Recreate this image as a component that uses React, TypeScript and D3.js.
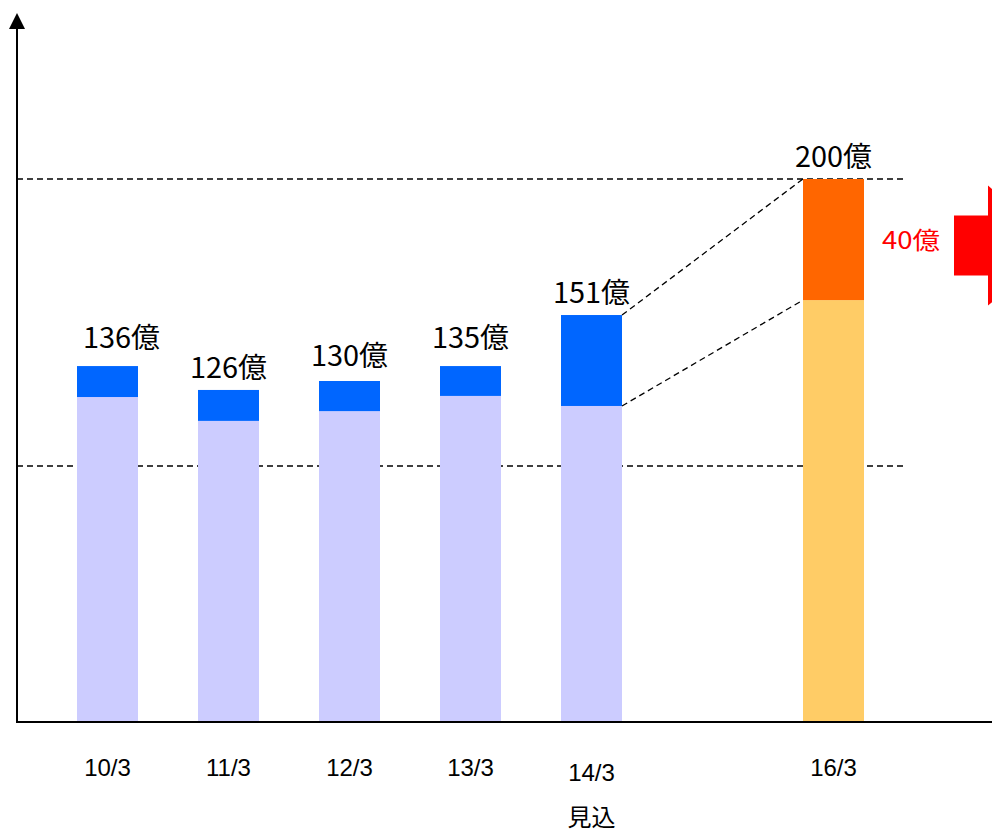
import { useEffect, useRef } from "react";
import * as d3 from "d3";

// 年度 (X位置用) とラベル
const years = [10, 11, 12, 13, 14, 16];
const yearLabels = ["10/3", "11/3", "12/3", "13/3", "14/3", "16/3"];
// 図から読み取った棒の高さ (スケール単位)
const baseValues = [119.7, 110.9, 114.5, 120.1, 116.4, 155.4];
const topValues = [131.1, 122.3, 125.6, 131.1, 149.9, 200];
// 表示ラベル
const totalLabels = ["136億", "126億", "130億", "135億", "151億", "200億"];
const guideValues = [200, 94.3];
const increaseLabel = "40億";

const W = 992;
const H = 834;
const CJK = "'Noto Sans CJK JP', sans-serif";

export default function App() {
  const svgRef = useRef<SVGSVGElement>(null);

  useEffect(() => {
    if (!svgRef.current) return;
    const svg = d3.select(svgRef.current);
    svg.selectAll("*").remove();

    const y = d3.scaleLinear().domain([0, 200]).range([722, 179]);
    const x = d3.scaleLinear().domain([10, 11]).range([77, 198]);
    const bw = 61;
    // ラベルと棒の間隔 (元図に合わせて少しずつ違う)
    const gap = [18, 12, 15, 18, 12, 12];

    const g = svg.append("g");

    // 破線の基準線
    g.selectAll(".guide")
      .data(guideValues)
      .enter()
      .append("line")
      .attr("x1", 17)
      .attr("x2", 905)
      .attr("y1", (d) => y(d))
      .attr("y2", (d) => y(d))
      .style("stroke", "#000")
      .style("stroke-width", 1.3)
      .style("stroke-dasharray", "6,4");

    // 棒 (下段)
    g.selectAll(".base")
      .data(years)
      .enter()
      .append("rect")
      .attr("x", (d) => x(d))
      .attr("width", bw)
      .attr("y", (d, i) => y(baseValues[i]))
      .attr("height", (d, i) => y(0) - y(baseValues[i]))
      .style("fill", (d) => (d === 16 ? "#FFCC66" : "#CCCCFF"));

    // 棒 (上段)
    g.selectAll(".top")
      .data(years)
      .enter()
      .append("rect")
      .attr("x", (d) => x(d))
      .attr("width", bw)
      .attr("y", (d, i) => y(topValues[i]))
      .attr("height", (d, i) => y(baseValues[i]) - y(topValues[i]))
      .style("fill", (d) => (d === 16 ? "#FF6600" : "#0066FF"));

    // 14/3 → 16/3 の破線
    const i14 = 4;
    const i16 = 5;
    [
      [topValues[i14], topValues[i16]],
      [baseValues[i14], baseValues[i16]],
    ].forEach(([a, b]) => {
      g.append("line")
        .attr("x1", x(years[i14]) + bw)
        .attr("y1", y(a))
        .attr("x2", x(years[i16]))
        .attr("y2", y(b))
        .style("stroke", "#000")
        .style("stroke-width", 1.3)
        .style("stroke-dasharray", "6,4");
    });

    // 合計ラベル
    g.selectAll(".lbl")
      .data(years)
      .enter()
      .append("text")
      .attr("x", (d, i) => x(d) + bw / 2 + (i === 0 ? 14 : 0))
      .attr("y", (d, i) => y(topValues[i]) - gap[i])
      .attr("text-anchor", "middle")
      .attr("textLength", 77)
      .attr("lengthAdjust", "spacingAndGlyphs")
      .style("font-family", CJK)
      .style("font-size", "28px")
      .style("fill", "#000")
      .text((d, i) => totalLabels[i]);

    // X軸ラベル
    g.selectAll(".xl")
      .data(years)
      .enter()
      .append("text")
      .attr("x", (d) => x(d) + bw / 2)
      .attr("y", (d) => (d === 14 ? 781 : 776))
      .attr("text-anchor", "middle")
      .style("font-family", "'Liberation Sans', Arial, sans-serif")
      .style("font-size", "24px")
      .style("fill", "#000")
      .text((d, i) => yearLabels[i]);

    g.append("text")
      .attr("x", x(14) + bw / 2)
      .attr("y", 826)
      .attr("text-anchor", "middle")
      .style("font-family", CJK)
      .style("font-size", "24px")
      .style("fill", "#000")
      .text("見込");

    // 増加分 40億 と矢印
    g.append("text")
      .attr("x", 911)
      .attr("y", 249)
      .attr("text-anchor", "middle")
      .attr("textLength", 58)
      .attr("lengthAdjust", "spacingAndGlyphs")
      .style("font-family", CJK)
      .style("font-size", "24px")
      .style("fill", "#FF0000")
      .text(increaseLabel);

    const ay = (y(topValues[i16]) + y(baseValues[i16])) / 2 + 6;
    g.append("path")
      .attr(
        "d",
        `M954,${ay - 30} L988,${ay - 30} L988,${ay - 60} L1060,${ay} L988,${ay + 60} L988,${ay + 30} L954,${ay + 30} Z`
      )
      .style("fill", "#FF0000");

    // 軸
    g.append("line")
      .attr("x1", 17)
      .attr("x2", W)
      .attr("y1", 722)
      .attr("y2", 722)
      .style("stroke", "#000")
      .style("stroke-width", 2);
    g.append("line")
      .attr("x1", 17)
      .attr("x2", 17)
      .attr("y1", 723)
      .attr("y2", 26)
      .style("stroke", "#000")
      .style("stroke-width", 2);
    g.append("path")
      .attr("d", "M17,13 L25,29 L9,29 Z")
      .style("fill", "#000");
  }, []);

  return (
    <svg
      ref={svgRef}
      width={W}
      height={H}
      style={{ position: "absolute", left: 0, top: 0, background: "#fff" }}
    />
  );
}
